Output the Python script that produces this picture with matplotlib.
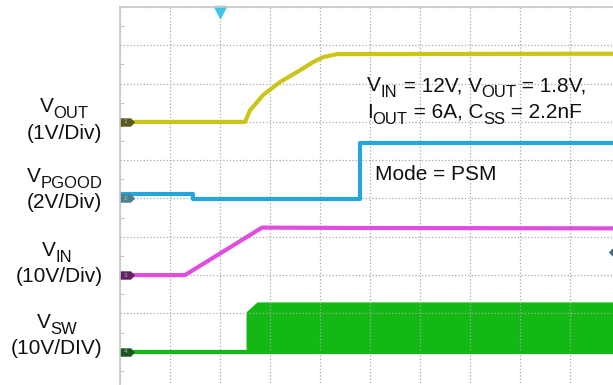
import re
import numpy as np
import matplotlib
matplotlib.use("Agg")
from matplotlib import pyplot as plt
from matplotlib.path import Path

plt.rcParams['font.family'] = ['Liberation Sans', 'DejaVu Sans']

# time in scope divisions, values in volts
t_vout = [0, 2.5, 2.6, 2.86, 3.2, 3.54, 3.86, 4.06, 4.34, 10]
v_vout = [0, 0, 0.3, 0.7, 1.04, 1.3, 1.56, 1.69, 1.77, 1.78]

t_pg = [0, 1.46, 1.46, 4.8, 4.8, 10]
v_pg = [0.26, 0.26, -0.05, -0.05, 2.9, 2.9]

t_vin = [0, 1.3, 2.84, 4.8, 10]
v_vin = [0, 0, 12.4, 12.3, 12.2]

t_sw_base = [0, 2.52]
v_sw_base = [0, 0]
t_sw_band = [2.52, 2.74, 10]
v_sw_top = [10.4, 13.0, 13.0]
v_sw_bot = [-0.3, -0.3, -0.3]

# channel: (offset div, volts/div, colour, marker colour)
ch_vout = (7, 1.0, '#cdc41a', '#5e5a1e')
ch_pg = (5, 2.0, '#22a6dc', '#4f7f8c')
ch_vin = (3, 10.0, '#e04ee0', '#642068')
ch_sw = (1, 10.0, '#14b814', '#1d561d')

def scr(v, ch):
    return ch[0] + np.array(v) / ch[1]

fig = plt.figure(figsize=(6.13, 3.85), dpi=100)
W, H = 613, 385
ax = fig.add_axes([120 / W, (H - 390) / H, 500 / W, 383 / H])
ax.set_xlim(0, 10)
ax.set_ylim(0, 10)
ax.set_xticks(range(11))
ax.set_yticks(range(11))
ax.set_yticks(np.arange(0.5, 10, 1), minor=True)
ax.tick_params(which='major', length=0, labelleft=False, labelbottom=False)
ax.tick_params(which='minor', axis='y', direction='in', length=3, color='#b8b8b8')
ax.grid(ls=':', color='#a8a8a8', lw=0.9)
for s in ['right', 'bottom']:
    ax.spines[s].set_visible(False)
for s in ['left', 'top']:
    ax.spines[s].set_color('#c8c8c8')
    ax.spines[s].set_linewidth(1.2)

lw = 3.0
ax.plot(t_vout, scr(v_vout, ch_vout), color=ch_vout[2], lw=lw, solid_joinstyle='round')
ax.plot(t_pg, scr(v_pg, ch_pg), color=ch_pg[2], lw=lw)
ax.plot(t_vin, scr(v_vin, ch_vin), color=ch_vin[2], lw=lw, solid_joinstyle='round')
ax.plot(t_sw_base + [10], scr(v_sw_base + [0], ch_sw), color=ch_sw[2], lw=lw)
ax.fill_between(t_sw_band, scr(v_sw_bot, ch_sw), scr(v_sw_top, ch_sw),
                color=ch_sw[2], lw=0)

# channel ground markers (tag shape)
tag = Path([(-1, -0.55), (0.45, -0.55), (1, 0), (0.45, 0.55), (-1, 0.55), (-1, -0.55)],
           [Path.MOVETO] + [Path.LINETO] * 4 + [Path.CLOSEPOLY])
tag_l = Path([(1, -0.55), (-0.45, -0.55), (-1, 0), (-0.45, 0.55), (1, 0.55), (1, -0.55)],
             [Path.MOVETO] + [Path.LINETO] * 4 + [Path.CLOSEPOLY])
for n, ch in enumerate([ch_vout, ch_pg, ch_vin, ch_sw], start=1):
    ax.plot([0.13], [ch[0]], marker=tag, markersize=11, color=ch[3], mew=0, clip_on=False)
    ax.text(0.11, ch[0], str(n), fontsize=4.5, color='#bbbbbb', va='center', ha='center')

# trigger markers
ax.plot([2.0], [9.88], marker='v', color='#3cc8e4', markersize=8, clip_on=False)
ax.plot([9.92], [3.6], marker=tag_l, markersize=11, color='#3f6e7a', mew=0)

rend = fig.canvas.get_renderer()

def width(s, fs):
    t = fig.text(0, 0, '|' + s + '|', fontsize=fs)
    w1 = t.get_window_extent(rend).width
    t.set_text('||')
    w0 = t.get_window_extent(rend).width
    t.remove()
    return w1 - w0

def ft(x, y, s, ha='left', fs=15):
    # "V_{OUT}" style: subscripts drawn as separate, slightly smaller text
    bits = re.split(r'_\{([^}]*)\}', s)
    parts = [(b, i % 2 == 1) for i, b in enumerate(bits) if b]
    sizes = [fs * 0.8 if sub else fs for _, sub in parts]
    ws = [width(p, sz) for (p, _), sz in zip(parts, sizes)]
    if ha == 'center':
        x -= sum(ws) / 2
    for (p, sub), sz, w in zip(parts, sizes, ws):
        yy = y + 6 if sub else y
        fig.text(x / W, 1 - yy / H, p, fontsize=sz, va='baseline', color='#111111')
        x += w

ft(64, 112, 'V_{OUT}', 'center')
ft(64, 139, '(1V/Div)', 'center')
ft(65, 182, 'V_{PGOOD}', 'center')
ft(64, 208, '(2V/Div)', 'center')
ft(57, 256, 'V_{IN}', 'center')
ft(59, 282, '(10V/Div)', 'center')
ft(57, 328, 'V_{SW}', 'center')
ft(57, 354, '(10V/DIV)', 'center')

ft(367, 91, 'V_{IN} = 12V, V_{OUT} = 1.8V,')
ft(367, 118, 'I_{OUT} = 6A, C_{SS} = 2.2nF')
ft(375, 180, 'Mode = PSM')

fig.savefig('out.png', dpi=100)
